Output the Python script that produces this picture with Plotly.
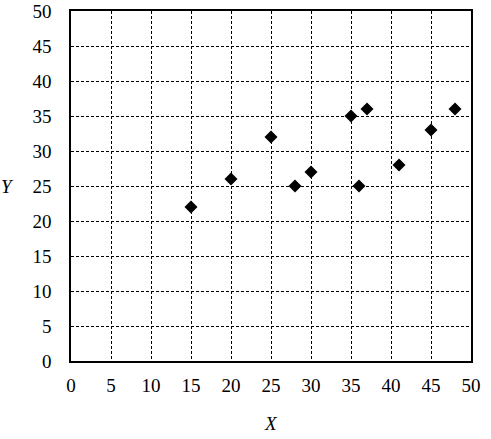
import plotly.graph_objects as go

x_vals = [15, 20, 25, 28, 30, 35, 36, 37, 41, 45, 48]
y_vals = [22, 26, 32, 25, 27, 35, 25, 36, 28, 33, 36]
tick_vals = [0, 5, 10, 15, 20, 25, 30, 35, 40, 45, 50]

font = dict(family="Liberation Serif", size=19, color="black")

fig = go.Figure()
fig.add_trace(go.Scatter(x=x_vals, y=y_vals, mode="markers",
                         marker=dict(symbol="diamond", size=10, color="black"),
                         showlegend=False, cliponaxis=False))

axis_common = dict(range=[0, 50], tickvals=tick_vals, showgrid=True,
                   gridcolor="black", griddash="3px,2px", gridwidth=1,
                   showline=True, linecolor="black", linewidth=1.5, mirror=True,
                   zeroline=False, ticks="", tickfont=font, automargin=False,
                   ticklabeloverflow="allow")

fig.update_xaxes(**axis_common, ticklabelstandoff=6)
fig.update_yaxes(**axis_common, ticklabelstandoff=14)

fig.add_annotation(text="<i>X</i>", xref="paper", yref="paper", x=0.5, y=0,
                   xanchor="center", yanchor="middle",
                   yshift=-62, showarrow=False, font=font)
fig.add_annotation(text="<i>Y</i>", xref="paper", yref="paper", x=0, y=0.5,
                   xanchor="center", yanchor="middle",
                   xshift=-63.5, showarrow=False, font=font)

fig.update_layout(width=491, height=439, plot_bgcolor="white", paper_bgcolor="white",
                  margin=dict(l=70.5, r=19.5, t=11, b=77.5, autoexpand=False), font=font)

# remove the default 8px page margin so the figure fills the window
fig.write_html("out.html", config={"displayModeBar": False},
               post_script="document.body.style.margin='0';")
